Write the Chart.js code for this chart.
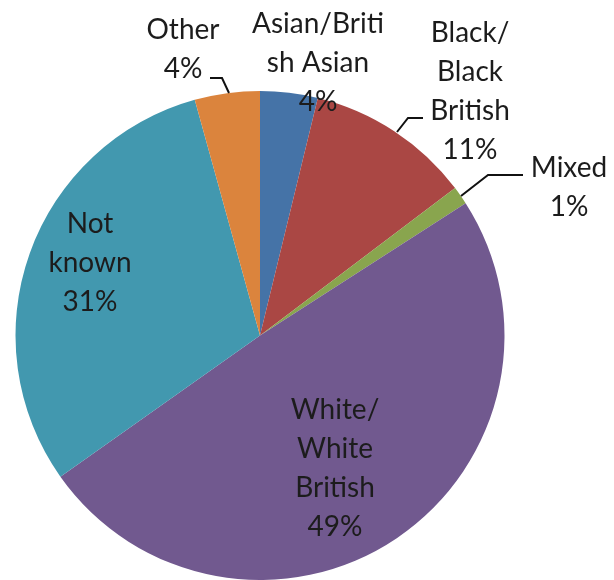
<!DOCTYPE html>
<html>
<head>
<meta charset="utf-8">
<script src="https://cdn.jsdelivr.net/npm/chart.js@4"></script>
<style>
  html, body { margin: 0; padding: 0; background: #fff; }
  #wrap { width: 614px; height: 580px; }
</style>
</head>
<body>
<div id="wrap"><canvas id="ethnicity-chart" width="614" height="580"></canvas></div>
<script>
// slices, clockwise from 12 o'clock
const categories = ["Asian/British Asian", "Black/Black British", "Mixed", "White/White British", "Not known", "Other"];
const shares = [3.8, 10.9, 1.2, 49.3, 30.5, 4.3];
// label text as printed in the picture (line breaks included)
const labelLines = [
    ["Asian/Briti", "sh Asian"],
    ["Black/", "Black", "British"],
    ["Mixed"],
    ["White/", "White", "British"],
    ["Not", "known"],
    ["Other"]
];
const sliceColors = ["#4573a7", "#aa4744", "#89a54e", "#71598f", "#4298af", "#db843d"];

// where each label sits (x centre, first baseline) and its leader line, if any
const labelLayout = [
    { x: 318, y: 33, leader: null },
    { x: 470, y: 42, leader: [[397, 132], [408, 118], [423, 118]] },
    { x: 569, y: 177, leader: [[461, 196], [488, 175], [523, 175]] },
    { x: 335, y: 419, leader: null },
    { x: 90, y: 233, leader: null },
    { x: 183, y: 39, leader: [[210, 78], [222, 78], [229, 93]] }
];

const pieLabels = {
    id: "pieLabels",
    afterDraw(chart) {
        const ctx = chart.ctx;
        ctx.save();
        ctx.font = "28px Lato";
        ctx.fillStyle = "#1c1c1c";
        ctx.textAlign = "center";
        ctx.textBaseline = "alphabetic";
        ctx.strokeStyle = "#111";
        ctx.lineWidth = 2;
        const data = chart.data.datasets[0].data;
        data.forEach((v, i) => {
            const pos = labelLayout[i];
            const lines = labelLines[i].concat([Math.round(v) + "%"]);
            lines.forEach((t, k) => ctx.fillText(t, pos.x, pos.y + k * 39));
            if (pos.leader) {
                ctx.beginPath();
                pos.leader.forEach((p, k) => k ? ctx.lineTo(p[0], p[1]) : ctx.moveTo(p[0], p[1]));
                ctx.stroke();
            }
        });
        ctx.restore();
    }
};

const ctx = document.getElementById("ethnicity-chart").getContext("2d");
const ethnicityChart = new Chart(ctx, {
    type: "pie",
    data: {
        labels: categories,
        datasets: [{
            data: shares,
            backgroundColor: sliceColors,
            borderWidth: 0
        }]
    },
    options: {
        responsive: false,
        animation: false,
        layout: {
            padding: { left: 14, right: 108, top: 91, bottom: -3 }
        },
        plugins: {
            legend: { display: false },
            tooltip: { enabled: false }
        }
    },
    plugins: [pieLabels]
});
</script>
</body>
</html>
